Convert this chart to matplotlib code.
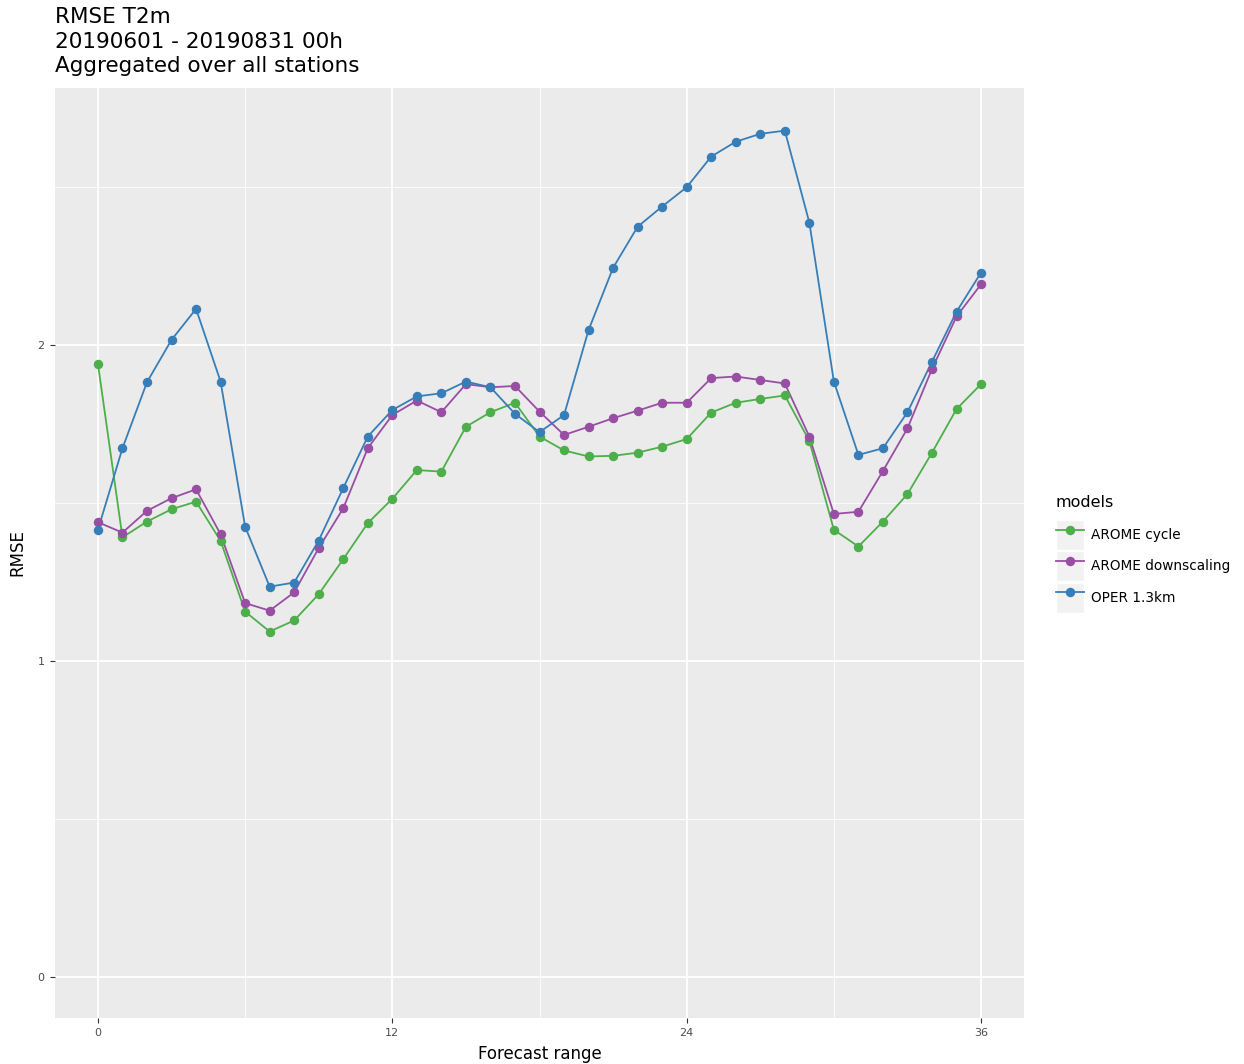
import matplotlib
matplotlib.use("Agg")
import matplotlib.pyplot as plt
from matplotlib.lines import Line2D
from matplotlib.patches import Rectangle
from matplotlib.legend_handler import HandlerLine2D
from matplotlib.ticker import MultipleLocator

plt.rcParams['font.family'] = ['DejaVu Sans']

hours = list(range(37))
models = ["AROME cycle", "AROME downscaling", "OPER 1.3km"]
colors = ["#4DAF4A", "#984EA3", "#377EB8"]

arome_cycle = [1.940, 1.391, 1.441, 1.480, 1.504, 1.380, 1.156, 1.093, 1.128, 1.211,
               1.322, 1.436, 1.513, 1.604, 1.599, 1.741, 1.787, 1.817, 1.710, 1.666,
               1.647, 1.649, 1.659, 1.678, 1.702, 1.786, 1.817, 1.829, 1.840, 1.696,
               1.415, 1.362, 1.441, 1.528, 1.659, 1.797, 1.876]
arome_downscaling = [1.439, 1.406, 1.475, 1.515, 1.543, 1.401, 1.183, 1.159, 1.217, 1.357,
                     1.483, 1.673, 1.778, 1.824, 1.787, 1.876, 1.866, 1.870, 1.789, 1.715,
                     1.741, 1.768, 1.792, 1.817, 1.817, 1.895, 1.900, 1.889, 1.878, 1.710,
                     1.465, 1.472, 1.601, 1.736, 1.924, 2.090, 2.192]
oper_13km = [1.415, 1.673, 1.882, 2.016, 2.114, 1.884, 1.425, 1.235, 1.248, 1.381,
             1.547, 1.710, 1.794, 1.837, 1.847, 1.884, 1.866, 1.782, 1.724, 1.778,
             2.047, 2.244, 2.374, 2.438, 2.499, 2.596, 2.643, 2.668, 2.678, 2.387,
             1.884, 1.652, 1.673, 1.787, 1.947, 2.105, 2.229]
series = [arome_cycle, arome_downscaling, oper_13km]

x_ticks = [0, 12, 24, 36]
y_ticks = [0, 1, 2]

W, H = 1244, 1064
fig = plt.figure(figsize=(W / 100, H / 100), dpi=100)
fig.patch.set_facecolor("white")
ax = fig.add_axes([55 / W, (H - 1018) / H, 969 / W, 930 / H])
ax.set_facecolor("#EBEBEB")

for s in ax.spines.values():
    s.set_visible(False)

ax.set_xlim(-1.75, 37.75)
ax.set_ylim(-0.130, 2.813)
ax.set_xticks(x_ticks)
ax.set_yticks(y_ticks)
ax.xaxis.set_minor_locator(MultipleLocator(6))
ax.yaxis.set_minor_locator(MultipleLocator(0.5))
ax.grid(which="major", color="white", linewidth=1.3)
ax.grid(which="minor", color="white", linewidth=0.6)
ax.set_axisbelow(True)
ax.tick_params(which="major", length=3.5, width=0.8, color="#333333",
               labelsize=8, labelcolor="#4D4D4D", pad=4)
ax.tick_params(which="minor", length=0)

for vals, col in zip(series, colors):
    ax.plot(hours, vals, color=col, linewidth=1.3, zorder=2)
for vals, col in zip(series, colors):
    ax.plot(hours, vals, linestyle="none", marker="o", markersize=5.8,
            color=col, zorder=3)

ax.set_xlabel("Forecast range", fontsize=12, color="black", labelpad=5)
ax.set_ylabel("RMSE", fontsize=12, color="black", labelpad=8)

fig.text(55 / W, 1 - 17 / H, "RMSE T2m", fontsize=15.5, va="center", ha="left")
fig.text(55 / W, 1 - 42 / H, "20190601 - 20190831 00h", fontsize=15.5, va="center", ha="left")
fig.text(55 / W, 1 - 66 / H, "Aggregated over all stations", fontsize=15.5, va="center", ha="left")


class KeyHandler(HandlerLine2D):
    def create_artists(self, legend, orig_handle, xdescent, ydescent, width, height,
                       fontsize, trans):
        rect = Rectangle((-xdescent, -ydescent), width, height, facecolor="#F2F2F2",
                         edgecolor="white", linewidth=1.0, transform=trans)
        arts = super().create_artists(legend, orig_handle, xdescent, ydescent, width,
                                      height, fontsize, trans)
        return [rect] + list(arts)


handles = [Line2D([], [], color=c, linewidth=1.3, marker="o", markersize=5.8)
           for c in colors]
leg = fig.legend(handles, models, title="models", loc="upper left",
                 bbox_to_anchor=(1049 / W, 1 - 488 / H), frameon=False,
                 fontsize=9.8, title_fontsize=11.5, handlelength=2.05, handleheight=3.0,
                 labelspacing=0.1, handletextpad=0.55, borderpad=0,
                 handler_map={Line2D: KeyHandler()}, alignment="left")
leg._legend_box.sep = 7.5

fig.savefig("out.png", dpi=100, facecolor="white")
